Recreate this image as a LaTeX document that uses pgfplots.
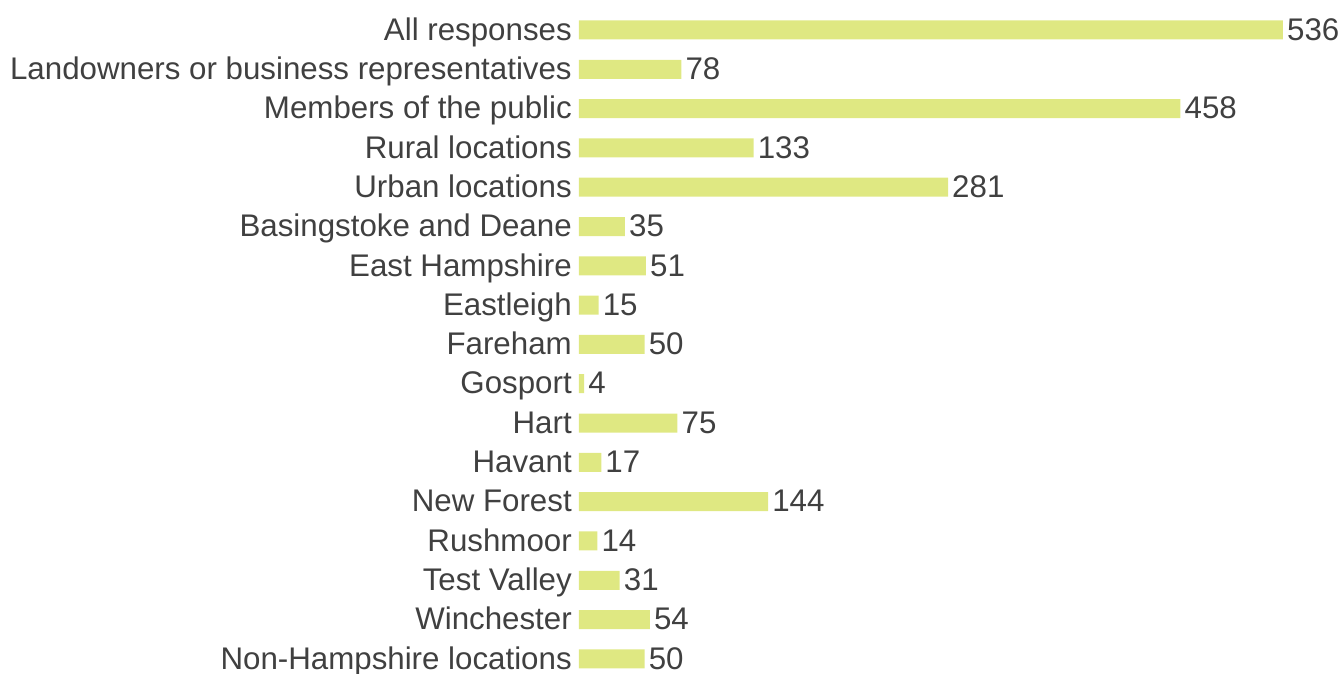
\documentclass[border=0pt]{standalone}
\usepackage{pgfplots}
\pgfplotsset{compat=1.18}
\usepackage{fontspec}
\setmainfont{Liberation Sans}
\definecolor{barc}{HTML}{DFE882}
\definecolor{txt}{HTML}{404040}
\begin{document}
\begin{tikzpicture}
\begin{axis}[
  xbar, scale only axis,
  width=704bp, height=668.2bp,
  xmin=0, xmax=536,
  ymin=-0.5, ymax=16.5, y dir=reverse,
  bar width=19bp,
  axis line style={draw=none},
  xtick=\empty,
  ytick={0,...,16},
  major tick length=0pt,
  yticklabels={All responses,Landowners or business representatives,Members of the public,Rural locations,Urban locations,Basingstoke and Deane,East Hampshire,Eastleigh,Fareham,Gosport,Hart,Havant,New Forest,Rushmoor,Test Valley,Winchester,Non-Hampshire locations},
  yticklabel style={font=\fontsize{31.4}{36}\selectfont, text=txt, inner sep=0pt, anchor=east, text height=22.5pt, text depth=0pt, xshift=-7bp, yshift=1bp},
  nodes near coords,
  every node near coord/.append style={font=\fontsize{31.4}{36}\selectfont, text=txt, anchor=west, inner sep=0pt, text height=22.5pt, text depth=0pt, xshift=4bp, yshift=1bp},
  /pgf/number format/assume math mode=true,
  clip=false,
]
\addplot[fill=barc, draw=none] coordinates {
(536,0) (78,1) (458,2) (133,3) (281,4) (35,5) (51,6) (15,7) (50,8) (4,9) (75,10) (17,11) (144,12) (14,13) (31,14) (54,15) (50,16)
};
\coordinate (BL) at (axis cs:-440.8,16.36);
\coordinate (TR) at (axis cs:580.2,-0.763);
\end{axis}
\pgfresetboundingbox
\path[use as bounding box] (BL) rectangle (TR);
\end{tikzpicture}
\end{document}
